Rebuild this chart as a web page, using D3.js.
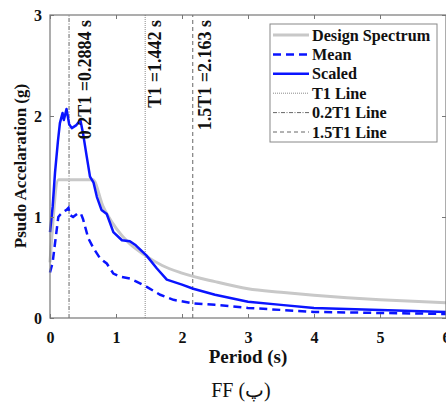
<!DOCTYPE html>
<html>
<head>
<meta charset="utf-8">
<script src="https://cdn.jsdelivr.net/npm/d3@7"></script>
<style>
  body { margin: 0; background: #fff; }
  svg { display: block; font-family: "Liberation Serif", "Times New Roman", serif; }
  .bold-text { font-weight: bold; }
</style>
</head>
<body>
<svg id="chart" width="446" height="403"></svg>
<script>
// design spectrum
var designT = [0, 0.13, 0.65, 0.8, 1.0, 1.2, 1.442, 1.7, 2.0, 2.5, 3.0, 3.5, 4.0, 4.5, 5.0, 5.5, 6.0];
var designSa = [0.55, 1.37, 1.37, 1.11, 0.89, 0.74, 0.62, 0.52, 0.445, 0.36, 0.29, 0.255, 0.225, 0.2, 0.18, 0.165, 0.15];

// mean of records
var meanT = [0, 0.04, 0.076, 0.126, 0.15, 0.2, 0.25, 0.28, 0.3, 0.35, 0.43, 0.47, 0.5, 0.58, 0.66, 0.76, 0.86, 0.96, 1.06, 1.21, 1.31, 1.46, 1.67, 1.87, 2.17, 2.5, 3.0, 4.0, 5.0, 6.0];
var meanSa = [0.45, 0.55, 0.74, 1.0, 1.02, 1.05, 1.07, 1.09, 1.02, 1.0, 1.04, 1.03, 0.98, 0.79, 0.69, 0.59, 0.54, 0.44, 0.41, 0.39, 0.36, 0.31, 0.23, 0.18, 0.145, 0.13, 0.1, 0.06, 0.05, 0.04];

// scaled mean
var scaledT = [0, 0.04, 0.076, 0.12, 0.15, 0.19, 0.21, 0.25, 0.29, 0.33, 0.4, 0.46, 0.5, 0.556, 0.606, 0.66, 0.71, 0.78, 0.86, 0.96, 1.09, 1.21, 1.3, 1.46, 1.62, 1.77, 2.0, 2.17, 2.5, 3.0, 3.5, 4.0, 5.0, 6.0];
var scaledSa = [0.85, 1.1, 1.44, 1.75, 1.93, 2.03, 1.96, 2.07, 1.92, 1.88, 1.91, 1.96, 1.83, 1.6, 1.4, 1.34, 1.2, 1.07, 1.03, 0.85, 0.77, 0.76, 0.72, 0.62, 0.49, 0.38, 0.33, 0.29, 0.23, 0.16, 0.13, 0.1, 0.08, 0.06];

// T1 markers
var markerNames = ["0.2T1", "T1", "1.5T1"];
var markerT = [0.2884, 1.442, 2.163];
var markerLabels = ["0.2T1 =0.2884 s", "T1 =1.442 s", "1.5T1 =2.163 s"];
var markerLabelT = [0.53, 1.59, 2.35];

var xTicks = [0, 1, 2, 3, 4, 5, 6];
var yTicks = [0, 1, 2, 3];

var legendNames = ["Design Spectrum", "Mean", "Scaled", "T1 Line", "0.2T1 Line", "1.5T1 Line"];

var svg = d3.select("#chart");

var x = d3.scaleLinear().domain([0, 6]).range([50, 446]);
var y = d3.scaleLinear().domain([0, 3]).range([318, 15]);

var styles = {
  design: { stroke: "#c8c8c8", width: 3, dash: null },
  mean: { stroke: "#0a14ff", width: 2.5, dash: "8,5" },
  scaled: { stroke: "#0a14ff", width: 2.5, dash: null },
  "T1": { stroke: "#8a8a8a", width: 1, dash: "1,1" },
  "0.2T1": { stroke: "#666", width: 1, dash: "4,1.5,1,1.5" },
  "1.5T1": { stroke: "#666", width: 1, dash: "4,3" }
};

function pairs(ts, vs) {
  return ts.map(function(t, i) { return [t, vs[i]]; });
}

var line = d3.line()
  .x(function(d) { return x(d[0]); })
  .y(function(d) { return y(d[1]); });

// vertical T1 lines
markerT.forEach(function(t, i) {
  var s = styles[markerNames[i]];
  svg.append("line")
    .attr("x1", x(t)).attr("x2", x(t))
    .attr("y1", y(0)).attr("y2", y(3))
    .attr("stroke", s.stroke)
    .attr("stroke-width", s.width)
    .attr("stroke-dasharray", s.dash);
});

svg.append("path")
  .datum(pairs(designT, designSa))
  .attr("d", line.curve(d3.curveMonotoneX))
  .attr("fill", "none")
  .attr("stroke", styles.design.stroke)
  .attr("stroke-width", styles.design.width);

line.curve(d3.curveLinear);

svg.append("path")
  .datum(pairs(meanT, meanSa))
  .attr("d", line)
  .attr("fill", "none")
  .attr("stroke", styles.mean.stroke)
  .attr("stroke-width", styles.mean.width)
  .attr("stroke-dasharray", styles.mean.dash);

svg.append("path")
  .datum(pairs(scaledT, scaledSa))
  .attr("d", line)
  .attr("fill", "none")
  .attr("stroke", styles.scaled.stroke)
  .attr("stroke-width", styles.scaled.width)
  .attr("stroke-linejoin", "round");

// labels on vertical lines
markerLabelT.forEach(function(t, i) {
  svg.append("text")
    .attr("class", "bold-text")
    .attr("transform", "translate(" + x(t) + ",20) rotate(-90)")
    .attr("text-anchor", "end")
    .attr("dy", "0.35em")
    .attr("font-size", 18)
    .attr("fill", "#111")
    .text(markerLabels[i]);
});

// axes box (matlab style, ticks inside)
var axisColor = "#777";
svg.append("rect")
  .attr("x", x(0)).attr("y", y(3))
  .attr("width", x(6) - x(0)).attr("height", y(0) - y(3))
  .attr("fill", "none")
  .attr("stroke", axisColor)
  .attr("stroke-width", 1.2);

var fmt = d3.format("d");
var xAxis = svg.append("g")
  .attr("transform", "translate(0," + y(0) + ")")
  .call(d3.axisBottom(x).tickValues(xTicks).tickFormat(fmt).tickSizeInner(-4).tickSizeOuter(0).tickPadding(14));
var xAxisTop = svg.append("g")
  .attr("transform", "translate(0," + y(3) + ")")
  .call(d3.axisTop(x).tickValues(xTicks).tickSizeInner(-4).tickSizeOuter(0).tickFormat(""));
var yAxis = svg.append("g")
  .attr("transform", "translate(" + x(0) + ",0)")
  .call(d3.axisLeft(y).tickValues(yTicks).tickFormat(fmt).tickSizeInner(-4).tickSizeOuter(0).tickPadding(8));
var yAxisRight = svg.append("g")
  .attr("transform", "translate(" + x(6) + ",0)")
  .call(d3.axisRight(y).tickValues(yTicks).tickSizeInner(-4).tickSizeOuter(0).tickFormat(""));

[xAxis, xAxisTop, yAxis, yAxisRight].forEach(function(g) {
  g.select(".domain").remove();
  g.selectAll(".tick line").attr("stroke", axisColor);
  g.selectAll("text")
    .attr("font-family", "Liberation Serif")
    .attr("font-weight", "bold")
    .attr("font-size", 16)
    .attr("fill", "#111");
});

// axis titles
svg.append("text")
  .attr("class", "bold-text")
  .attr("x", 248).attr("y", 363)
  .attr("text-anchor", "middle")
  .attr("font-size", 19)
  .attr("fill", "#111")
  .text("Period (s)");

svg.append("text")
  .attr("class", "bold-text")
  .attr("transform", "translate(20,166) rotate(-90)")
  .attr("text-anchor", "middle")
  .attr("dy", "0.35em")
  .attr("font-size", 17)
  .attr("fill", "#111")
  .text("Psudo Accelaration (g)");

svg.append("text")
  .attr("x", 241).attr("y", 397)
  .attr("text-anchor", "middle")
  .attr("font-size", 20)
  .attr("fill", "#111")
  .text("FF (\u067E)");

// legend
var legend = svg.append("g").attr("transform", "translate(270,24)");
legend.append("rect")
  .attr("width", 167).attr("height", 118)
  .attr("fill", "#fff")
  .attr("stroke", "#888")
  .attr("stroke-width", 1);

var legendKeys = ["design", "mean", "scaled", "T1", "0.2T1", "1.5T1"];
legendKeys.forEach(function(k, i) {
  var s = styles[k];
  var ly = 11 + i * 19.4;
  legend.append("line")
    .attr("x1", 3).attr("x2", 39)
    .attr("y1", ly).attr("y2", ly)
    .attr("stroke", s.stroke)
    .attr("stroke-width", s.width)
    .attr("stroke-dasharray", s.dash);
  legend.append("text")
    .attr("class", "bold-text")
    .attr("x", 42).attr("y", ly)
    .attr("dy", "0.35em")
    .attr("font-size", 16.2)
    .attr("fill", "#111")
    .text(legendNames[i]);
});
</script>
</body>
</html>
